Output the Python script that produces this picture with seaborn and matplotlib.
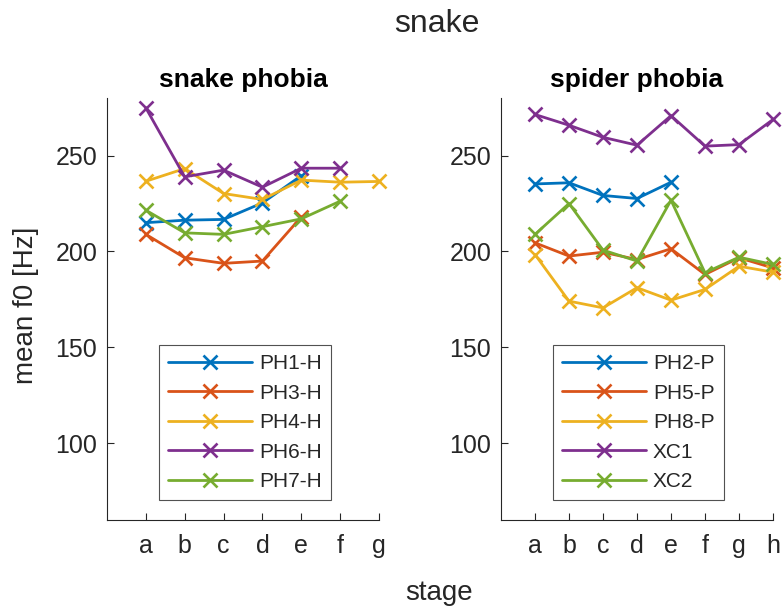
import matplotlib
matplotlib.use("Agg")
import matplotlib.pyplot as plt
import seaborn as sns
import pandas as pd
import numpy as np

# ---- data ----
stages_left = ["a", "b", "c", "d", "e", "f", "g"]
stages_right = ["a", "b", "c", "d", "e", "f", "g", "h"]

PH1_H = [215.0, 216.3, 216.7, 225.3, 239.5]
PH3_H = [208.9, 196.7, 193.8, 195.0, 218.0]
PH4_H = [236.6, 243.2, 230.2, 227.1, 237.2, 236.1, 236.5]
PH6_H = [274.8, 238.9, 242.4, 233.5, 243.4, 243.4]
PH7_H = [221.5, 209.7, 208.9, 212.9, 217.0, 226.2]

PH2_P = [235.2, 235.8, 229.2, 227.6, 236.1]
PH5_P = [204.5, 197.6, 199.6, 195.8, 201.4, 188.0, 196.7, 191.4]
PH8_P = [198.4, 174.1, 170.6, 181.1, 174.6, 180.2, 192.3, 189.2]
XC1 = [271.4, 265.8, 259.5, 255.4, 270.8, 254.9, 255.7, 268.8]
XC2 = [208.9, 225.0, 200.7, 195.0, 226.7, 188.9, 197.0, 193.2]

left_series = {"PH1-H": PH1_H, "PH3-H": PH3_H, "PH4-H": PH4_H, "PH6-H": PH6_H, "PH7-H": PH7_H}
right_series = {"PH2-P": PH2_P, "PH5-P": PH5_P, "PH8-P": PH8_P, "XC1": XC1, "XC2": XC2}

colors = ["#0072BD", "#D95319", "#EDB120", "#7E2F8E", "#77AC30"]

sns.set_theme(style="ticks")
plt.rcParams["font.family"] = ["Liberation Sans", "DejaVu Sans"]

fig = plt.figure(figsize=(7.82, 6.11), dpi=100)
W, H = 782, 611
ax1 = fig.add_axes([107 / W, 1 - 520 / H, (379 - 107) / W, (520 - 98) / H])
ax2 = fig.add_axes([501 / W, 1 - 520 / H, (773 - 501) / W, (520 - 98) / H])


def draw(ax, series, stages, title, legend_box):
    for (name, vals), col in zip(series.items(), colors):
        df = pd.DataFrame({"x": np.arange(1, len(vals) + 1), "y": vals})
        sns.lineplot(data=df, x="x", y="y", ax=ax, color=col, marker="x",
                     markersize=9.5, markeredgewidth=1.9, linewidth=2,
                     markeredgecolor=col, label=name, clip_on=False)
    ax.set_xlim(0, len(stages))
    ax.set_ylim(60, 280)
    ax.set_xticks(np.arange(1, len(stages) + 1))
    ax.set_xticklabels(stages)
    ax.set_yticks([100, 150, 200, 250])
    ax.set_xlabel("")
    ax.set_ylabel("")
    ax.set_title(title, fontsize=19, fontweight="bold", pad=8, color="black")
    for s in ["top", "right"]:
        ax.spines[s].set_visible(False)
    for s in ["left", "bottom"]:
        ax.spines[s].set_color("#262626")
        ax.spines[s].set_linewidth(0.8)
    ax.tick_params(direction="in", length=5, width=0.8, labelsize=18,
                   colors="#262626")
    ax.tick_params(axis="x", pad=10)
    ax.tick_params(axis="y", pad=7)
    leg = ax.legend(loc="upper left", bbox_to_anchor=legend_box, fontsize=15,
                    frameon=True, fancybox=False, handlelength=4.0,
                    borderpad=0.45, labelspacing=0.5, handletextpad=0.35,
                    borderaxespad=0)
    leg.get_frame().set_edgecolor("#262626")
    leg.get_frame().set_linewidth(0.8)


draw(ax1, left_series, stages_left, "snake phobia",
     ((159 - 107) / (379 - 107), (520 - 345) / (520 - 98)))
draw(ax2, right_series, stages_right, "spider phobia",
     ((553 - 501) / (773 - 501), (520 - 345) / (520 - 98)))

fig.text(437 / W, 1 - 24 / H, "snake", ha="center", va="center", fontsize=23, color="#262626")
fig.text(439 / W, 1 - 593 / H, "stage", ha="center", va="center", fontsize=20, color="#262626")
fig.text(26 / W, 1 - 305 / H, "mean f0 [Hz]", ha="center", va="center", rotation=90,
         fontsize=20, color="#262626")

fig.savefig("out.png", dpi=100)
